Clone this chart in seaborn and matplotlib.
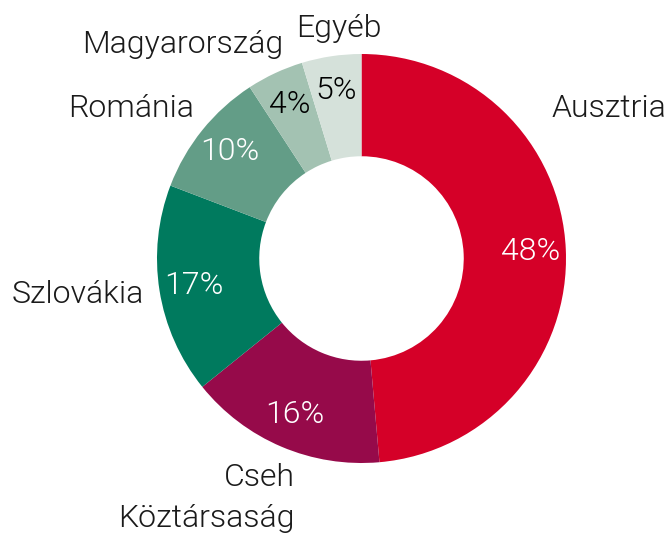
import matplotlib
matplotlib.use("Agg")
import matplotlib.pyplot as plt
import numpy as np
import seaborn as sns

# Data
countries = ["Ausztria", "Cseh\nKöztársaság", "Szlovákia", "Románia", "Magyarország", "Egyéb"]
shares = [48.6, 15.6, 16.6, 10.0, 4.5, 4.7]
pct_labels = ["48%", "16%", "17%", "10%", "4%", "5%"]
colors = ["#D50028", "#960A4A", "#007A5E", "#639D87", "#A3C2B2", "#D5E1DA"]
pct_colors = ["white", "white", "white", "white", "black", "black"]

sns.set_theme(style="white")
plt.rcParams["font.family"] = ["Roboto", "DejaVu Sans"]

W, H = 669, 533
CX, CY, R = 361.5, 258.5, 204.5


def px(x, y):
    # pixel position (from top-left) -> data coords of the pie
    return (x - CX) / R, (CY - y) / R


fig = plt.figure(figsize=(W / 100, H / 100), dpi=100)
ax = fig.add_axes([0, 0, 1, 1])

wedges, texts = ax.pie(shares, colors=sns.color_palette(colors), startangle=90,
                       counterclock=False, radius=1,
                       wedgeprops=dict(width=0.5, linewidth=0))

# percentage labels inside the ring
for w, lab, c in zip(wedges, pct_labels, pct_colors):
    ang = np.deg2rad((w.theta1 + w.theta2) / 2)
    ax.text(0.83 * np.cos(ang), 0.83 * np.sin(ang), lab, color=c,
            fontsize=23, fontweight=300, ha="center", va="center")

# country labels (baseline of last line)
label_pos = {
    "Ausztria": (609, 117),
    "Cseh\nKöztársaság": (206.5, 527),
    "Szlovákia": (78, 303),
    "Románia": (131.5, 117),
    "Magyarország": (182.5, 53),
    "Egyéb": (339, 37),
}
for name in countries:
    x, y = px(*label_pos[name])
    ax.text(x, y, name, fontsize=23, fontweight=300, color="#1a1a1a",
            ha="center", va="baseline", multialignment="right", linespacing=1.5)

ax.set_xlim(-CX / R, (W - CX) / R)
ax.set_ylim((CY - H) / R, CY / R)
ax.set_aspect("equal")
ax.axis("off")

fig.savefig("out.png", dpi=100)
